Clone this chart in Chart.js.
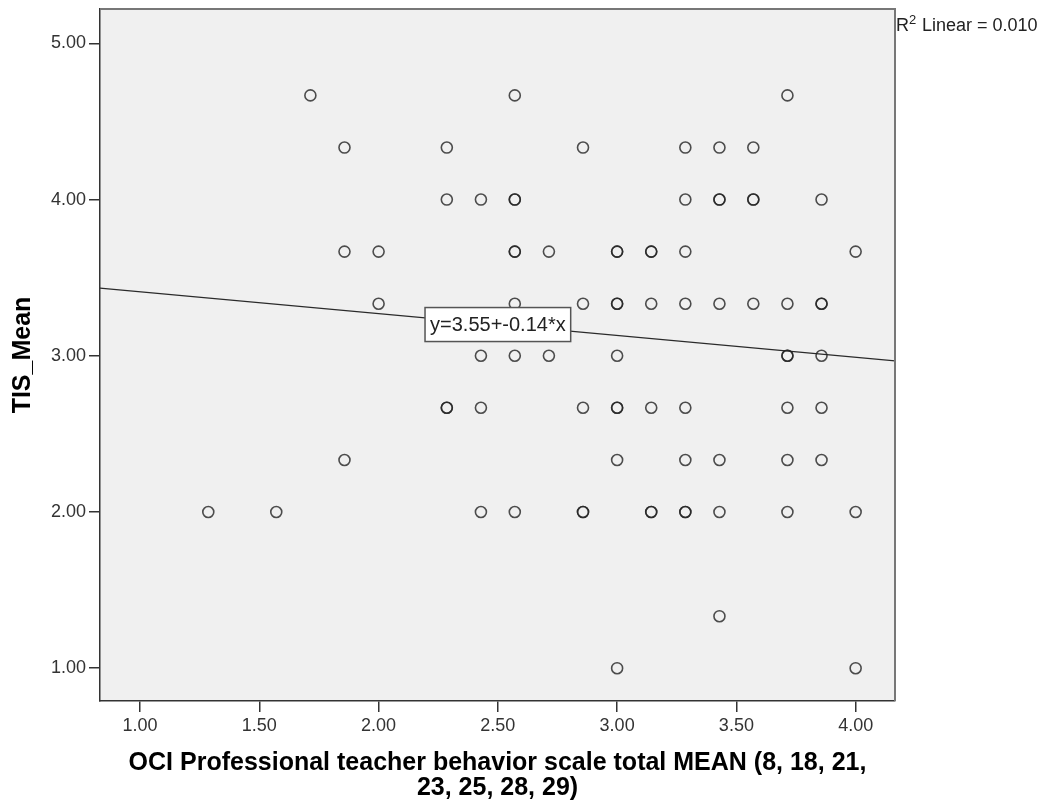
<!DOCTYPE html>
<html>
<head>
<meta charset="utf-8">
<script src="https://cdn.jsdelivr.net/npm/chart.js@4.4.1/dist/chart.umd.min.js"></script>
<style>
  html, body { margin: 0; padding: 0; background: #fff; }
  #wrap { width: 1045px; height: 803px; }
</style>
</head>
<body>
<div id="wrap"><canvas id="scatter" width="1045" height="803"></canvas></div>
<script>
// one entry per case (repeats = darker circles)
const ociMean = [
  1.714, 2.571, 3.714,
  1.857, 2.286, 2.857, 3.286, 3.429, 3.571,
  2.286, 2.429, 2.571, 2.571, 3.286, 3.429, 3.429, 3.571, 3.571, 3.857,
  1.857, 2.000, 2.571, 2.571, 2.714, 3.000, 3.000, 3.143, 3.143, 3.286, 4.000,
  2.000, 2.571, 2.857, 3.000, 3.000, 3.143, 3.286, 3.429, 3.571, 3.714, 3.857, 3.857,
  2.429, 2.571, 2.714, 3.000, 3.714, 3.714, 3.857,
  2.286, 2.286, 2.429, 2.857, 3.000, 3.000, 3.143, 3.286, 3.714, 3.857,
  1.857, 3.000, 3.286, 3.429, 3.714, 3.857,
  1.286, 1.571, 2.429, 2.571, 2.857, 2.857, 3.143, 3.143, 3.286, 3.286, 3.429, 3.714, 4.000,
  3.429,
  3.000, 4.000
];
const tisMean = [
  4.667, 4.667, 4.667,
  4.333, 4.333, 4.333, 4.333, 4.333, 4.333,
  4.000, 4.000, 4.000, 4.000, 4.000, 4.000, 4.000, 4.000, 4.000, 4.000,
  3.667, 3.667, 3.667, 3.667, 3.667, 3.667, 3.667, 3.667, 3.667, 3.667, 3.667,
  3.333, 3.333, 3.333, 3.333, 3.333, 3.333, 3.333, 3.333, 3.333, 3.333, 3.333, 3.333,
  3.000, 3.000, 3.000, 3.000, 3.000, 3.000, 3.000,
  2.667, 2.667, 2.667, 2.667, 2.667, 2.667, 2.667, 2.667, 2.667, 2.667,
  2.333, 2.333, 2.333, 2.333, 2.333, 2.333,
  2.000, 2.000, 2.000, 2.000, 2.000, 2.000, 2.000, 2.000, 2.000, 2.000, 2.000, 2.000, 2.000,
  1.333,
  1.000, 1.000
];

const xTicks  = [1.0, 1.5, 2.0, 2.5, 3.0, 3.5, 4.0];
const yTicks  = [1, 2, 3, 4, 5];
const xRange  = [0.832, 4.165];
const yRange  = [0.79, 5.22];

const fitIntercept = 3.55;
const fitSlope     = -0.14;
const fitLabel     = 'y=3.55+-0.14*x';
const fitLabelAtX  = 2.5;
const r2Text       = 'Linear = 0.010';

const xTitle = ['OCI Professional teacher behavior scale total MEAN (8, 18, 21,', '23, 25, 28, 29)'];
const yTitle = 'TIS_Mean';

const points = ociMean.map(function(x, i) { return { x: x, y: tisMean[i] }; });
const fitLine = xRange.map(function(x) { return { x: x, y: fitIntercept + fitSlope * x }; });

const spssFrame = {
  id: 'spssFrame',
  beforeDraw: function(chart) {
    const a = chart.chartArea;
    const ctx = chart.ctx;
    ctx.save();
    ctx.fillStyle = '#f0f0f0';
    ctx.fillRect(a.left, a.top, a.right - a.left, a.bottom - a.top);
    ctx.restore();
  },
  afterDatasetsDraw: function(chart) {
    const ctx = chart.ctx;
    const xs = chart.scales.x, ys = chart.scales.y;
    const cx = xs.getPixelForValue(fitLabelAtX);
    const cy = ys.getPixelForValue(fitIntercept + fitSlope * fitLabelAtX);
    ctx.save();
    ctx.font = '20px Arial, "Liberation Sans", sans-serif';
    const w = ctx.measureText(fitLabel).width + 10;
    const h = 34;
    ctx.fillStyle = '#fff';
    ctx.fillRect(cx - w / 2, cy - h / 2, w, h);
    ctx.strokeStyle = '#555';
    ctx.lineWidth = 1.5;
    ctx.strokeRect(cx - w / 2, cy - h / 2, w, h);
    ctx.fillStyle = '#222';
    ctx.textAlign = 'center';
    ctx.textBaseline = 'middle';
    ctx.fillText(fitLabel, cx, cy + 1);
    ctx.restore();
  },
  afterDraw: function(chart) {
    const a = chart.chartArea;
    const ctx = chart.ctx;
    ctx.save();
    // top and right edges of the frame are lighter
    ctx.strokeStyle = '#777';
    ctx.lineWidth = 2;
    ctx.beginPath();
    ctx.moveTo(a.left, a.top);
    ctx.lineTo(a.right, a.top);
    ctx.lineTo(a.right, a.bottom);
    ctx.stroke();

    ctx.fillStyle = '#222';
    ctx.textBaseline = 'middle';
    ctx.textAlign = 'left';
    ctx.font = '18px Arial, "Liberation Sans", sans-serif';
    ctx.fillText('R', a.right + 1, 26);
    ctx.font = '13px Arial, "Liberation Sans", sans-serif';
    ctx.fillText('2', a.right + 14, 20);
    ctx.font = '18px Arial, "Liberation Sans", sans-serif';
    ctx.fillText(r2Text, a.right + 27, 26);
    ctx.restore();
  }
};

const tickFont = { family: 'Arial, "Liberation Sans", sans-serif', size: 18 };

const chart = new Chart(document.getElementById('scatter').getContext('2d'), {
  type: 'scatter',
  data: {
    datasets: [
      {
        type: 'line',
        data: fitLine,
        borderColor: '#2a2a2a',
        borderWidth: 1.3,
        pointRadius: 0,
        fill: false,
        order: 2
      },
      {
        data: points,
        pointStyle: 'circle',
        pointRadius: 5.5,
        pointBorderWidth: 1.6,
        borderColor: 'rgba(35, 35, 35, 0.8)',
        backgroundColor: 'rgba(0, 0, 0, 0)',
        order: 1
      }
    ]
  },
  options: {
    responsive: false,
    animation: false,
    events: [],
    layout: { padding: { top: 9, right: 150, bottom: 0, left: 0 } },
    plugins: {
      legend: { display: false },
      tooltip: { enabled: false }
    },
    scales: {
      x: {
        type: 'linear',
        min: xRange[0],
        max: xRange[1],
        afterBuildTicks: function(s) { s.ticks = xTicks.map(function(v) { return { value: v }; }); },
        afterFit: function(s) { s.height = 102; s.paddingLeft = 0; s.paddingRight = 0; },
        grid: { display: true, drawOnChartArea: false, drawTicks: true, tickLength: 11, color: '#333', lineWidth: 1.5 },
        border: { display: true, color: '#333', width: 1.5 },
        ticks: {
          padding: 3,
          color: '#333',
          font: tickFont,
          maxRotation: 0,
          callback: function(v) { return Number(v).toFixed(2); }
        },
        title: {
          display: true,
          text: xTitle,
          color: '#000',
          font: { family: 'Arial, "Liberation Sans", sans-serif', size: 25, weight: 'bold', lineHeight: '25px' },
          padding: { top: 0, bottom: 2 }
        }
      },
      y: {
        type: 'linear',
        min: yRange[0],
        max: yRange[1],
        afterBuildTicks: function(s) { s.ticks = yTicks.map(function(v) { return { value: v }; }); },
        afterFit: function(s) { s.width = 100; s.paddingTop = 0; s.paddingBottom = 0; },
        grid: { display: true, drawOnChartArea: false, drawTicks: true, tickLength: 11, color: '#333', lineWidth: 1.5 },
        border: { display: true, color: '#333', width: 1.5 },
        ticks: {
          padding: 3,
          color: '#333',
          font: tickFont,
          callback: function(v) { return Number(v).toFixed(2); }
        },
        title: {
          display: true,
          text: yTitle,
          color: '#000',
          font: { family: 'Arial, "Liberation Sans", sans-serif', size: 25, weight: 'bold' },
          padding: { top: 8, bottom: 0 }
        }
      }
    }
  },
  plugins: [spssFrame]
});
</script>
</body>
</html>
